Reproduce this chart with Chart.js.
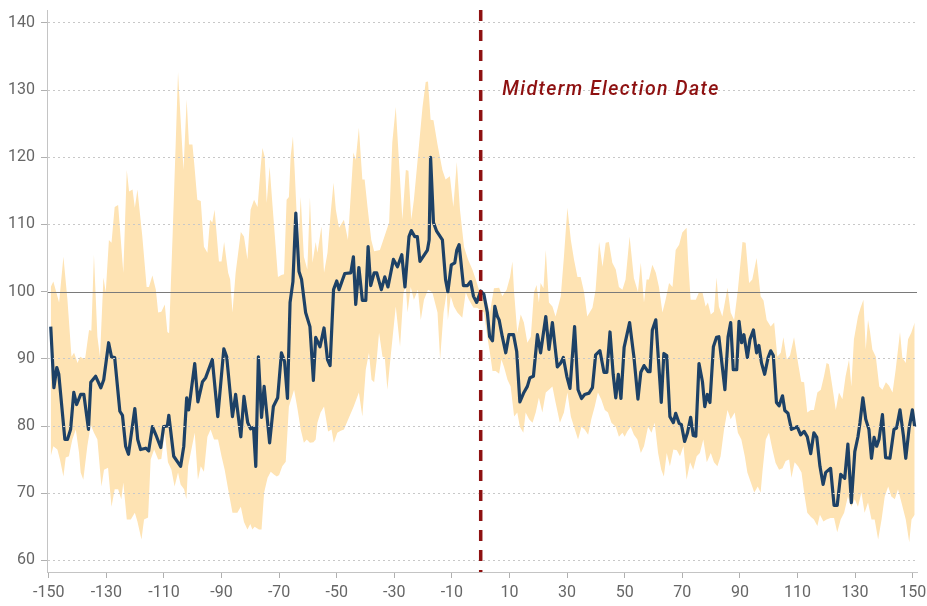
<!DOCTYPE html>
<html>
<head>
<meta charset="utf-8">
<script src="https://cdn.jsdelivr.net/npm/chart.js@4.4.1/dist/chart.umd.min.js"></script>
<style>
html,body{margin:0;padding:0;background:#fff;}
#c{display:block;}
</style>
</head>
<body>
<canvas id="c" width="927" height="606"></canvas>
<script>
// ---- Data (days relative to the midterm election) ----
const lineDays = [-149.3,-148.2,-147.2,-146.5,-144.4,-143.5,-142.4,-141.3,-140.3,-138.9,
-137.8,-136.2,-135.4,-133.7,-131.9,-130.9,-129.2,-128.2,-127.1,-125.3,
-124.4,-123.3,-122.3,-120.1,-119.1,-118.1,-116.3,-115.3,-114.0,-112.8,
-111.1,-110.1,-108.8,-108.3,-106.6,-104.2,-103.1,-102.1,-101.4,-99.3,
-98.2,-96.6,-95.5,-93.2,-91.3,-89.2,-88.2,-86.2,-85.1,-83.3,
-82.2,-80.9,-79.9,-78.9,-78.1,-77.2,-76.1,-75.2,-73.3,-72.0,
-70.5,-69.2,-68.1,-67.1,-66.2,-65.2,-64.2,-63.1,-62.2,-60.8,
-59.3,-58.1,-57.3,-55.8,-54.4,-53.2,-52.3,-51.1,-50.0,-49.2,
-47.2,-45.1,-44.2,-43.4,-42.3,-41.1,-39.9,-39.1,-38.2,-37.0,
-36.1,-34.5,-33.3,-32.2,-30.3,-28.9,-27.4,-26.3,-24.9,-24.1,
-22.9,-22.0,-21.1,-19.7,-18.5,-17.9,-17.4,-16.4,-15.3,-13.3,
-12.2,-11.4,-10.2,-9.0,-8.3,-7.5,-6.0,-4.6,-3.5,-2.5,
-1.4,0.0,1.1,2.3,3.1,4.1,4.9,5.8,6.4,7.5,
8.7,9.8,11.4,12.5,13.6,15.0,16.2,17.1,18.3,19.7,
20.8,22.6,23.7,24.9,26.6,27.8,28.7,29.9,31.0,32.6,
33.8,35.0,36.1,37.6,38.8,39.9,41.4,42.8,43.8,44.9,
46.0,46.9,47.8,48.7,49.8,51.7,53.2,54.6,55.6,56.7,
58.1,58.8,59.6,60.8,62.7,63.6,64.6,65.7,66.9,67.7,
68.9,69.7,70.8,71.8,72.9,73.8,74.7,75.8,77.0,77.8,
78.7,79.6,80.8,81.9,82.7,84.8,85.9,86.8,87.7,88.9,
89.7,90.6,91.4,92.6,93.5,94.7,95.8,96.6,97.5,98.6,
99.8,100.7,101.6,102.7,103.6,104.8,105.6,106.7,107.9,109.9,
111.1,112.3,113.4,114.6,115.7,116.7,117.8,118.9,119.8,121.5,
122.7,123.8,125.0,126.4,127.5,128.7,129.9,131.0,131.7,132.7,
133.7,134.8,135.7,136.6,137.5,138.3,139.5,140.6,142.1,143.5,
144.4,145.6,146.8,147.6,148.8,149.9,150.7];
const lineValues = [94.8,85.7,88.7,87.7,78.0,78.0,79.5,85.0,83.2,84.7,
84.7,79.5,86.5,87.4,85.7,86.9,92.4,90.3,90.2,82.2,
81.6,77.0,75.8,82.6,78.0,76.5,76.7,76.3,79.9,78.7,
76.8,79.9,80.0,81.6,75.5,74.0,77.0,84.2,82.4,89.3,
83.6,86.6,87.2,89.9,81.4,91.5,90.3,81.4,84.7,78.4,
84.4,80.5,79.6,79.8,74.0,90.3,81.3,85.9,77.5,82.9,
84.2,90.9,89.6,84.1,98.4,101.5,111.7,103.0,101.8,96.9,
94.8,86.8,93.2,91.8,94.6,89.9,89.0,100.3,101.6,100.3,
102.7,102.8,105.2,98.1,103.6,98.7,98.7,106.7,100.9,102.8,
102.8,100.3,102.2,100.7,104.8,103.7,105.5,100.7,108.2,109.1,
108.2,108.2,104.5,105.4,106.2,107.7,120.0,110.3,109.0,107.7,
101.8,100.0,104.0,104.3,106.2,107.0,100.9,100.9,101.5,99.3,
98.4,100.1,99.6,96.9,93.3,92.7,97.8,96.3,95.8,93.3,
90.9,93.6,93.6,91.1,83.6,85.0,85.9,87.2,87.4,93.6,
90.9,96.3,91.4,95.4,88.8,89.4,90.2,87.4,85.6,94.8,
85.4,84.1,84.7,84.9,85.7,90.6,91.2,88.0,88.0,94.0,
87.7,84.2,87.7,84.1,91.7,95.4,90.3,84.0,88.0,89.0,
88.1,88.1,94.3,95.8,83.5,90.8,90.5,81.4,80.5,81.9,
80.4,80.2,77.7,79.0,81.3,78.6,78.5,89.3,86.6,82.9,
84.7,83.5,91.8,93.2,93.3,85.4,93.3,95.4,88.4,88.4,
95.6,92.4,93.6,90.2,92.9,94.3,90.9,92.0,89.4,87.7,
90.2,91.2,90.5,83.5,83.0,84.5,82.3,81.9,79.5,79.9,
78.7,79.2,78.4,75.9,79.0,78.3,74.0,71.3,73.1,73.7,
68.2,68.2,72.8,72.2,77.3,68.6,76.2,78.4,80.5,84.2,
81.0,79.5,75.2,78.3,77.0,78.0,81.7,75.3,75.2,79.5,
79.7,82.4,78.5,75.2,79.8,82.4,79.9];

const upperDays = [-149.3,-148.4,-146.4,-144.9,-143.5,-142.1,-141.2,-140.0,-139.1,-137.4,
-136.0,-135.2,-134.3,-133.1,-132.2,-131.0,-130.2,-129.1,-128.2,-127.1,
-125.9,-124.1,-122.9,-122.1,-120.9,-120.1,-119.2,-117.5,-116.0,-115.2,
-114.0,-112.8,-112.0,-110.9,-109.7,-108.8,-108.2,-107.0,-105.9,-105.1,
-104.2,-103.2,-102.1,-101.3,-100.1,-99.5,-98.4,-97.2,-96.1,-94.9,
-94.0,-93.2,-92.4,-90.9,-90.0,-89.1,-87.7,-87.0,-86.2,-85.1,
-83.3,-82.2,-81.0,-79.9,-78.7,-77.5,-76.4,-75.8,-75.0,-74.3,
-73.3,-72.0,-70.4,-69.2,-68.3,-67.4,-66.6,-66.0,-65.2,-64.6,
-63.4,-62.5,-61.4,-60.2,-59.3,-58.4,-57.3,-56.7,-55.3,-54.4,
-53.2,-52.1,-51.1,-50.3,-49.2,-47.5,-46.1,-44.2,-43.4,-42.3,
-41.1,-40.3,-39.3,-38.0,-37.0,-35.0,-33.6,-31.8,-30.7,-29.5,
-28.4,-27.2,-26.0,-25.1,-24.1,-23.2,-21.8,-20.2,-19.1,-18.3,
-17.4,-16.4,-15.0,-13.3,-12.2,-10.7,-9.5,-8.3,-7.2,-5.8,
-4.4,-2.9,-1.7,-0.6,0.6,2.3,3.2,4.6,6.4,7.5,
9.0,10.2,11.0,11.6,12.7,13.9,15.0,16.2,17.4,18.5,
19.4,20.2,20.8,21.8,22.6,23.7,24.9,26.0,27.8,28.9,
30.1,31.3,32.4,33.6,34.7,35.9,37.0,38.8,39.9,41.1,
42.3,43.4,44.5,45.7,46.9,48.0,49.2,50.3,51.7,53.2,
54.6,55.6,56.7,57.6,58.4,59.6,60.8,61.9,63.1,64.2,
65.4,66.6,67.7,68.9,70.0,71.5,72.0,72.9,74.7,75.8,
77.0,78.1,78.9,79.9,81.0,81.9,82.7,83.9,85.7,86.8,
88.0,89.3,90.9,92.0,93.2,94.3,95.8,97.2,98.2,99.3,
100.7,101.9,103.0,104.2,105.1,106.3,107.4,108.8,110.2,111.3,
112.3,113.4,114.6,115.7,116.9,118.1,119.2,120.1,120.9,122.1,
123.3,124.4,125.6,126.7,127.9,128.7,129.6,131.0,131.9,132.9,
133.7,134.5,135.2,136.0,137.2,138.4,139.5,140.7,141.8,143.0,
144.1,145.6,146.4,147.6,148.4,149.5,150.7];
const upperValues = [100.7,101.5,98.4,105.2,98.8,90.3,90.9,89.4,90.3,89.9,
94.3,94.2,105.5,93.3,90.3,102.1,99.9,107.7,107.3,112.6,
112.9,102.8,118.1,114.9,115.2,112.5,115.2,108.2,100.7,100.7,
102.4,100.3,96.9,97.0,98.1,94.0,93.8,108.2,122.2,132.7,
125.6,118.1,128.6,121.9,121.9,119.2,113.7,113.5,106.7,105.8,
110.7,110.3,112.2,104.5,104.5,107.4,102.8,101.8,96.9,102.8,
108.9,108.2,104.8,112.2,113.7,112.6,118.6,121.4,120.1,113.2,
118.6,111.2,102.2,102.5,102.6,113.7,114.1,120.1,123.1,118.1,
106.7,114.1,105.2,103.3,114.0,104.3,107.4,105.8,109.7,102.8,
105.8,111.7,116.2,112.2,109.5,110.7,107.7,120.7,119.6,124.4,
116.7,116.7,112.6,107.7,106.0,106.2,108.0,110.3,122.2,127.5,
119.6,110.7,118.1,118.0,110.7,113.7,120.1,127.5,131.2,131.3,
125.6,125.5,121.9,118.1,116.7,117.2,112.6,119.3,112.2,106.7,
104.8,103.3,101.8,100.3,99.9,98.4,96.9,100.5,100.6,99.3,
100.3,102.2,104.5,99.9,93.9,96.6,95.4,92.4,93.3,99.9,
101.0,98.4,101.3,100.5,106.2,98.4,97.8,96.3,99.3,105.2,
112.5,107.7,104.8,102.2,102.2,99.9,96.3,97.6,100.3,107.4,
103.7,107.3,107.4,104.3,103.3,100.7,100.3,101.8,108.2,102.0,
100.0,104.3,98.4,101.8,101.8,104.0,102.8,100.7,96.9,98.8,
101.3,100.7,106.2,107.0,108.8,109.5,104.8,98.8,98.8,99.9,
99.9,97.8,98.4,96.6,97.0,102.1,97.8,96.3,100.6,96.9,
95.8,100.3,107.4,107.3,101.3,101.8,105.0,99.3,98.7,95.8,
94.8,95.4,90.3,90.9,93.2,89.9,90.5,93.2,89.4,86.6,
86.5,82.0,82.4,82.4,85.0,85.4,87.4,89.4,89.2,85.9,
82.4,85.0,84.0,87.4,89.9,85.9,92.9,96.3,97.6,98.8,
91.4,95.8,94.0,91.4,90.3,85.9,85.4,86.5,86.0,85.0,
88.4,94.0,90.2,89.4,92.9,93.9,95.4];

const lowerDays = [-149.3,-148.4,-147.0,-146.1,-144.9,-144.1,-143.0,-141.8,-140.6,-139.5,
-138.9,-138.0,-136.6,-135.4,-134.3,-133.1,-131.7,-130.8,-129.4,-128.2,
-127.1,-125.9,-124.8,-124.1,-122.9,-121.5,-120.1,-119.2,-117.8,-116.9,
-115.5,-114.6,-113.4,-112.0,-110.9,-109.7,-108.6,-107.4,-106.3,-105.1,
-104.2,-103.0,-102.2,-101.6,-100.7,-99.3,-98.2,-97.2,-96.1,-94.9,
-93.8,-92.6,-91.2,-90.0,-88.9,-87.7,-86.2,-84.5,-83.3,-82.2,
-81.0,-80.0,-79.3,-78.5,-77.0,-76.1,-75.2,-74.0,-72.9,-71.8,
-70.8,-70.0,-68.9,-67.7,-66.6,-64.8,-63.6,-62.5,-61.4,-60.4,
-59.3,-58.1,-57.3,-56.7,-55.6,-54.4,-53.0,-51.8,-51.0,-49.8,
-48.6,-47.5,-45.7,-44.1,-42.3,-41.1,-39.9,-38.8,-37.9,-37.0,
-36.1,-35.3,-34.1,-33.3,-32.4,-31.3,-29.5,-28.0,-26.8,-26.0,
-25.4,-24.3,-23.2,-21.8,-20.8,-19.7,-18.3,-16.8,-15.0,-14.1,
-12.9,-11.8,-11.4,-10.4,-9.3,-8.1,-6.4,-5.2,-4.1,-2.5,
-1.2,1.1,2.3,3.2,4.1,5.2,6.4,7.2,8.1,9.3,
10.4,11.6,12.7,13.6,14.8,15.6,16.8,18.0,19.1,20.2,
21.4,22.6,23.7,24.9,26.0,27.5,28.9,30.1,31.3,32.4,
33.8,35.0,36.1,37.3,38.4,39.6,40.7,41.9,43.1,44.2,
45.4,46.9,48.0,49.2,50.0,50.9,52.1,53.2,54.4,55.6,
56.7,58.1,59.3,60.4,61.6,62.7,63.6,64.6,65.7,66.9,
68.1,69.2,70.4,71.5,72.7,73.8,75.0,76.1,77.3,78.5,
79.9,81.0,82.2,83.3,84.5,85.7,86.8,88.2,89.3,90.5,
91.7,92.6,93.8,95.0,96.2,97.2,97.9,99.0,100.1,101.3,
102.4,103.6,104.8,105.9,107.1,107.9,109.0,110.2,111.4,112.3,
113.4,114.6,115.7,116.9,117.8,119.0,120.1,121.5,122.7,123.8,
125.0,126.2,127.5,128.7,129.9,131.0,132.2,133.3,134.5,135.7,
136.8,138.0,139.2,140.3,141.5,142.6,143.8,144.9,146.1,147.6,
148.8,149.6,150.7];
const lowerValues = [75.5,77.0,76.5,75.0,72.5,75.3,75.5,78.0,79.5,76.1,
73.1,72.0,77.0,80.2,79.0,78.0,71.0,73.5,73.8,68.0,
70.6,70.6,69.1,71.6,66.1,66.1,67.1,65.8,63.1,66.1,
66.4,75.0,76.5,75.0,75.1,79.0,74.6,73.5,71.0,73.1,
71.3,70.6,69.1,74.0,76.0,79.0,72.0,74.0,73.2,78.4,
79.5,78.0,78.0,75.5,73.5,70.6,67.1,67.1,68.0,65.7,
64.6,65.4,64.6,65.0,64.6,64.6,70.1,72.3,73.2,72.8,
72.5,72.7,74.0,74.7,82.9,85.4,82.5,79.5,77.5,78.0,
77.5,77.6,78.0,80.5,82.0,82.9,79.2,79.5,77.5,79.0,
79.3,79.5,81.3,82.9,85.0,81.4,88.4,90.9,86.9,86.5,
89.9,93.9,90.3,90.2,85.4,90.2,97.8,91.8,99.9,100.7,
96.9,100.7,98.8,100.3,95.8,98.8,100.3,99.9,96.9,89.9,
96.9,99.9,95.8,99.3,97.8,96.9,96.1,99.9,98.8,97.6,
97.6,96.9,93.3,90.9,88.2,88.2,87.8,89.9,88.8,86.9,
85.9,81.4,82.0,79.9,79.0,82.0,81.0,80.5,82.0,84.2,
82.0,85.0,85.4,85.9,83.5,80.5,82.0,85.0,81.4,79.9,
78.0,79.9,79.5,78.7,81.0,82.9,85.0,83.9,82.4,82.0,
80.5,79.9,78.4,79.0,78.4,79.2,79.9,78.7,78.0,76.0,
77.0,79.9,79.0,80.5,76.0,73.5,72.5,76.0,74.0,76.5,
76.4,75.5,77.0,72.0,74.6,73.5,75.5,76.0,78.0,74.6,
76.0,74.6,74.0,75.5,79.5,82.4,81.0,82.0,79.0,78.0,
75.5,73.1,71.6,70.1,71.0,70.1,73.5,78.0,79.0,76.5,
74.5,73.5,73.7,74.8,75.0,72.3,74.6,74.0,73.1,70.1,
67.1,66.5,66.1,65.1,66.8,65.8,66.1,66.3,66.3,64.2,
66.1,67.1,69.5,68.0,69.1,68.0,70.1,67.1,68.6,66.1,
66.1,63.1,66.1,69.5,71.0,69.5,69.1,70.6,68.6,66.1,
62.7,66.1,66.8];

const xTickValues = [-150,-130,-110,-90,-70,-50,-30,-10,10,30,50,70,90,110,130,150];
const yTickValues = [60,70,80,90,100,110,120,130,140];
const electionDay = 0;
const baselineValue = 100;
const annotationText = 'Midterm Election Date';

// ---- Chart ----
const toPoints = (xs, ys) => xs.map((x, i) => ({ x: x, y: ys[i] }));
const FONT = 'Roboto';

const overlayPlugin = {
  id: 'overlay',
  afterDatasetDraw(chart, args, opts) {
    if (args.index !== 1) return;
    const { ctx, chartArea } = chart;
    const y = chart.scales.y.getPixelForValue(opts.baseline);
    ctx.save();
    ctx.strokeStyle = '#7a7a7a';
    ctx.lineWidth = 1;
    ctx.beginPath();
    ctx.moveTo(chartArea.left, Math.round(y) + 0.5);
    ctx.lineTo(chartArea.right, Math.round(y) + 0.5);
    ctx.stroke();
    ctx.restore();
  },
  afterDraw(chart, args, opts) {
    const { ctx, chartArea } = chart;
    const xs = chart.scales.x, ys = chart.scales.y;
    const x = xs.getPixelForValue(opts.eventX);
    ctx.save();
    ctx.strokeStyle = '#8e1111';
    ctx.lineWidth = 3.5;
    ctx.setLineDash([11, 9]);
    ctx.beginPath();
    ctx.moveTo(x, chartArea.top);
    ctx.lineTo(x, chartArea.bottom);
    ctx.stroke();
    ctx.setLineDash([]);
    ctx.fillStyle = '#8e1111';
    ctx.font = 'italic 500 19.5px ' + FONT;
    if ('letterSpacing' in ctx) ctx.letterSpacing = '1.4px';
    ctx.textAlign = 'left';
    ctx.textBaseline = 'middle';
    ctx.fillText(opts.text, xs.getPixelForValue(opts.labelX), ys.getPixelForValue(opts.labelY));
    ctx.restore();
  }
};

new Chart(document.getElementById('c'), {
  type: 'line',
  data: {
    datasets: [
      {
        label: 'Index',
        data: toPoints(lineDays, lineValues),
        borderColor: '#1d4166',
        borderWidth: 3.2,
        borderJoinStyle: 'round',
        pointRadius: 0,
        tension: 0,
        fill: false
      },
      {
        label: 'Upper',
        data: toPoints(upperDays, upperValues),
        borderWidth: 0,
        borderColor: 'rgba(0,0,0,0)',
        backgroundColor: '#fee3b3',
        pointRadius: 0,
        tension: 0,
        fill: '+1'
      },
      {
        label: 'Lower',
        data: toPoints(lowerDays, lowerValues),
        borderWidth: 0,
        borderColor: 'rgba(0,0,0,0)',
        pointRadius: 0,
        tension: 0,
        fill: false
      }
    ]
  },
  options: {
    responsive: false,
    devicePixelRatio: 1,
    animation: false,
    events: [],
    layout: { padding: { top: 10, right: 10, left: 0, bottom: 0 } },
    plugins: {
      legend: { display: false },
      tooltip: { enabled: false },
      overlay: { baseline: baselineValue, eventX: electionDay, labelX: 7.5, labelY: 130.0, text: annotationText }
    },
    scales: {
      x: {
        type: 'linear',
        min: -150.6,
        max: 151.5,
        afterBuildTicks: s => { s.ticks = xTickValues.map(v => ({ value: v })); },
        afterFit: s => { s.height = 34; s.paddingLeft = 0; s.paddingRight = 0; },
        ticks: { font: { family: FONT, size: 16 }, color: '#666', padding: 5, maxRotation: 0, autoSkip: false },
        grid: { display: true, drawOnChartArea: false, drawTicks: true, tickLength: 6, tickColor: '#b0b0b0' },
        border: { display: true, color: '#c4c4c4', width: 1 }
      },
      y: {
        type: 'linear',
        min: 58.27,
        max: 141.93,
        afterBuildTicks: s => { s.ticks = yTickValues.map(v => ({ value: v })); },
        afterFit: s => { s.width = 47; s.paddingTop = 0; s.paddingBottom = 0; },
        ticks: { font: { family: FONT, size: 16 }, color: '#666', padding: 6 },
        grid: {
          z: 1,
          color: c => (c.tick && c.tick.value === baselineValue) ? 'rgba(0,0,0,0)' : '#c8c8c8',
          lineWidth: 1,
          drawTicks: true,
          tickLength: 6,
          tickColor: '#b0b0b0'
        },
        border: { display: true, color: '#c4c4c4', width: 1, dash: [2, 3], z: 1 }
      }
    }
  },
  plugins: [overlayPlugin]
});
</script>
</body>
</html>
